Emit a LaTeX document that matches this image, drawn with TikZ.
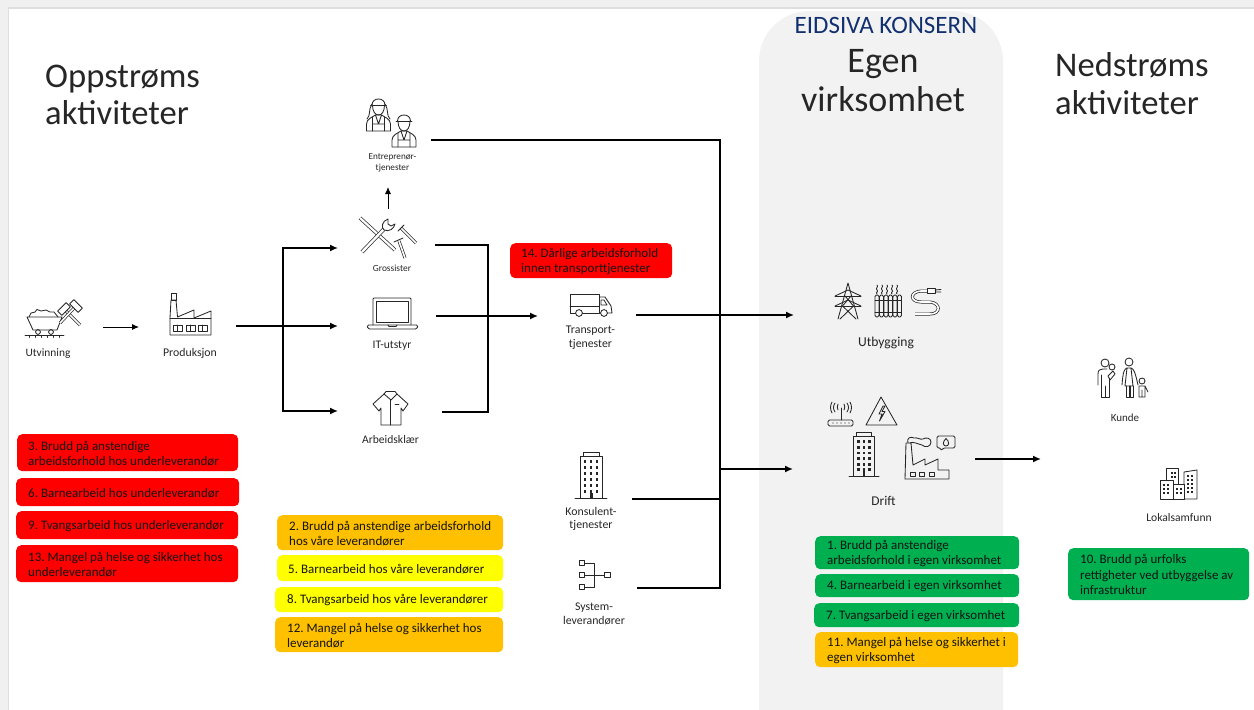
\documentclass[tikz,border=0pt]{standalone}
\usepackage{fontspec}
\setmainfont{Carlito}
\usetikzlibrary{arrows.meta}
\frenchspacing
\definecolor{riskred}{HTML}{FF0000}
\definecolor{riskorange}{HTML}{FFC000}
\definecolor{riskyellow}{HTML}{FFFF00}
\definecolor{riskgreen}{HTML}{00B050}
\definecolor{panelgray}{HTML}{F2F2F2}
\definecolor{eidsiva}{HTML}{123070}
\definecolor{inkcol}{HTML}{262626}
\tikzset{
  x=1pt,y=-1pt,
  icon/.style={draw=inkcol,line width=.85pt,line join=round,line cap=round},
  lbl/.style={font=\fontsize{11.8}{13.8}\selectfont,text=inkcol,inner sep=0pt,align=center},
  ttl/.style={font=\fontsize{34.6}{38}\selectfont,text=black!85,inner sep=0pt,align=left,anchor=base west},
  conn/.style={draw=black,line width=1.5pt},
  connarrow/.style={conn,-{Latex[length=8pt,width=7pt]}},
  thinarrow/.style={draw=black,line width=.9pt,-{Latex[length=7pt,width=6pt]}},
  shaft/.style={draw=inkcol,double=white,double distance=1.6pt,line width=.7pt},
  pics/tower/.style={code={
    \draw[icon] (-8,-46) rectangle (8,-42);
    \draw[icon] (-11,-42) rectangle (11,0);
    \draw[icon] (-16,0) -- (16,0);
    \foreach \r in {0,...,5}{\foreach \c in {-6,0,6}{
      \fill[inkcol] (\c-1.4,-38+\r*6) rectangle (\c+1.4,-35+\r*6);}}
    \fill[inkcol] (-1.5,-5) rectangle (1.5,0);
  }},
  pics/worker/.style={code={
    \draw[icon] (-6,-1) .. controls (-6,6) and (-3,9) .. (0,9) .. controls (3,9) and (6,6) .. (6,-1);
    \draw[icon] (-8,-1) -- (8,-1);
    \draw[icon] (-6.5,-1) .. controls (-6.5,-9) and (6.5,-9) .. (6.5,-1);
    \draw[icon] (-12,25) -- (-12,18) .. controls (-12,13) and (-6,11) .. (-3,9) -- (3,9) .. controls (6,11) and (12,13) .. (12,18) -- (12,25) -- cycle;
    \draw[icon] (-6,11) -- (-6,25) (6,11) -- (6,25) (-6,18) -- (6,18) (-3,9) -- (0,18) -- (3,9);
  }}
}
\newcommand{\riskbox}[8]{%
  \node[fill=#6,rounded corners=5pt,anchor=north west,minimum width=#4-#2,minimum height=#5-#3,
    inner sep=0pt] (#1) at (#2,#3) {};
  \node[anchor=west,inner sep=0pt,align=left,
    font=\fontsize{13}{15.5}\selectfont,text=black!92] (#1text) at ([xshift=#7pt,yshift=-.7pt]#1.west) {#8};}
\begin{document}
\begin{tikzpicture}
\useasboundingbox (0,0) rectangle (1254,710);
% window edge
\fill[black!6] (0,0) rectangle (1254,8);
\fill[black!6] (0,0) rectangle (9,710);
\fill[black!13] (9,7) rectangle (1254,8.5);
\fill[black!13] (8,7) rectangle (9,710);
% panel
\fill[panelgray,rounded corners=50pt] (759,11) rectangle (1003,760);
% titles
\node[ttl] (upstream) at (45,87) {Oppstrøms};
\node[ttl] (upstream2) at (45,124) {aktiviteter};
\node[ttl] (downstream) at (1055,76) {Nedstrøms};
\node[ttl] (downstream2) at (1055,114) {aktiviteter};
\node[inner sep=0pt,anchor=base,text=eidsiva,font=\fontsize{25}{27}\selectfont] (eidsivaname) at (886,33) {EIDSIVA KONSERN};
\node[ttl,anchor=base,font=\fontsize{36}{40}\selectfont] (own1) at (883,72) {Egen};
\node[ttl,anchor=base,font=\fontsize{36}{40}\selectfont] (own2) at (883,111) {virksomhet};
% labels
\node[lbl,font=\fontsize{11.4}{13}\selectfont] (utv) at (48,354) {Utvinning};
\node[lbl] (prod) at (190,353) {Produksjon};
\node[lbl,font=\fontsize{9.2}{11}\selectfont] (entr) at (392.5,163) {Entreprenør-\\tjenester};
\node[lbl,font=\fontsize{9.4}{11}\selectfont] (gros) at (392,268) {Grossister};
\node[lbl,font=\fontsize{11.6}{13}\selectfont] (itut) at (392,346) {IT-utstyr};
\node[lbl,font=\fontsize{11.6}{13}\selectfont] (arb) at (390.5,440) {Arbeidsklær};
\node[lbl] (trans) at (590.5,337.5) {Transport-\\tjenester};
\node[lbl] (kons) at (591,519) {Konsulent-\\tjenester};
\node[lbl] (syst) at (594,614) {System-\\leverandører};
\node[lbl,font=\fontsize{13.6}{15}\selectfont] (utb) at (886,343) {Utbygging};
\node[lbl,font=\fontsize{13.4}{15}\selectfont] (drift) at (883.5,501) {Drift};
\node[lbl,font=\fontsize{11}{13}\selectfont] (kunde) at (1125,418) {Kunde};
\node[lbl,font=\fontsize{11.6}{13}\selectfont] (lokal) at (1179,518) {Lokalsamfunn};
% risk boxes
\riskbox{r3}{17}{434}{238}{471}{riskred}{11}{3. Brudd på anstendige\\arbeidsforhold hos underleverandør}
\riskbox{r6}{16}{478}{239}{506}{riskred}{12}{6. Barnearbeid hos underleverandør}
\riskbox{r9}{16}{511}{238}{539}{riskred}{12}{9. Tvangsarbeid hos underleverandør}
\riskbox{r13}{16}{545}{238}{582}{riskred}{12}{13. Mangel på helse og sikkerhet hos\\underleverandør}
\riskbox{r2}{277}{515}{503}{550}{riskorange}{12}{2. Brudd på anstendige arbeidsforhold\\hos våre leverandører}
\riskbox{r5}{277}{555}{503}{581}{riskyellow}{11}{5. Barnearbeid hos våre leverandører}
\riskbox{r8}{275}{587}{503}{612}{riskyellow}{12}{8. Tvangsarbeid hos våre leverandører}
\riskbox{r12}{275}{617}{503}{652}{riskorange}{12}{12. Mangel på helse og sikkerhet hos\\leverandør}
\riskbox{r14}{510}{243}{672}{278}{riskred}{11}{14. Dårlige arbeidsforhold\\innen transporttjenester}
\riskbox{r1}{815}{536}{1019}{569}{riskgreen}{12}{1. Brudd på anstendige\\arbeidsforhold i egen virksomhet}
\riskbox{r4}{815}{574}{1019}{597}{riskgreen}{12}{4. Barnearbeid i egen virksomhet}
\riskbox{r7}{814}{603}{1019}{627}{riskgreen}{12}{7. Tvangsarbeid i egen virksomhet}
\riskbox{r11}{815}{632}{1018}{667}{riskorange}{12}{11. Mangel på helse og sikkerhet i\\egen virksomhet}
\riskbox{r10}{1068}{548}{1249}{600}{riskgreen}{12}{10. Brudd på urfolks\\rettigheter ved utbyggelse av\\infrastruktur}
% connector points
\coordinate (utvout) at (103,327); \coordinate (prodin) at (139,327);
\coordinate (prodout) at (236,326); \coordinate (split) at (283,326);
\coordinate (splitup) at (283,248); \coordinate (splitdn) at (283,411);
\coordinate (grosin) at (338,248); \coordinate (itin) at (338,326); \coordinate (arbin) at (338,411);
\coordinate (grosup) at (388,209); \coordinate (entrin) at (388,187);
\coordinate (grosout) at (435,245); \coordinate (gather1) at (488,245);
\coordinate (arbout) at (442,412); \coordinate (gather2) at (488,412);
\coordinate (itout) at (436,316); \coordinate (transin) at (538,316);
\coordinate (entrout) at (431,140); \coordinate (bus1) at (720,140);
\coordinate (sysout) at (637,588); \coordinate (bus2) at (720,588);
\coordinate (konsout) at (632,499); \coordinate (bus3) at (720,499);
\coordinate (transout) at (636,315); \coordinate (utbin) at (794,315);
\coordinate (bus4) at (720,469); \coordinate (driftin) at (793,469);
\coordinate (driftout) at (975,459); \coordinate (downin) at (1041,459);
% connectors
\draw[thinarrow] (utvout) -- (prodin);
\draw[conn] (prodout) -- (split);
\draw[connarrow] (split) -- (splitup) -- (grosin);
\draw[connarrow] (split) -- (splitdn) -- (arbin);
\draw[connarrow] (split) -- (itin);
\draw[thinarrow] (grosup) -- (entrin);
\draw[conn] (grosout) -- (gather1) -- (gather2) -- (arbout);
\draw[connarrow] (itout) -- (transin);
\draw[conn] (entrout) -- (bus1) -- (bus2) -- (sysout);
\draw[conn] (konsout) -- (bus3);
\draw[connarrow] (transout) -- (utbin);
\draw[connarrow] (bus4) -- (driftin);
\draw[connarrow] (driftout) -- (downin);
% --- mine cart + hammers
\draw[icon] (27,317) -- (62,317) -- (57,330) -- (33,330) -- cycle;
\draw[icon] (29,317) -- (31,313) -- (35,312) -- (37,309.5) -- (41,311) -- (46,310) -- (50,312) -- (54,312) -- (58,317);
\draw[icon] (38,332) circle (2.4) (51,332) circle (2.4);
\draw[icon] (25,335.5) -- (64,335.5);
\foreach \t in {29,35,41,47,53,59}{\draw[icon] (\t,335.5) -- (\t,337.5);}
\draw[shaft] (80,325) -- (65,310);
\draw[shaft] (60,323) -- (75,307);
\draw[icon,fill=white,rotate around={-45:(64,309)}] (61,303) rectangle (67,315);
\draw[icon,fill=white,rotate around={45:(76,306)}] (73,300) rectangle (79,312);
% --- factory
\draw[icon] (170,335) -- (170,318) -- (171,300) -- (176,300) -- (177.5,317) -- (194,310) -- (194,318) -- (211,311) -- (211,335) -- cycle;
\draw[icon] (170,318) -- (211,318);
\draw[icon] (171,293) rectangle (176,300);
\foreach \w in {173,186,198}{\draw[icon] (\w,325) rectangle (\w+9,331); \draw[icon] (\w+4.5,325) -- (\w+4.5,331);}
% --- workers
\path (378.5,106) pic {worker};
\draw[icon] (372,104) .. controls (368,110) and (371,115) .. (367,119) (385,104) .. controls (389,110) and (386,115) .. (390,119);
\path (404,122) pic {worker};
% --- tools
\draw[shaft,double distance=2.2pt] (360,218) -- (395,250);
\draw[shaft,double distance=2.4pt] (362,252) -- (385,228);
\draw[icon,fill=white] (388,219) .. controls (382,221) and (381,227) .. (384,230) .. controls (389,232) and (394,229) .. (395,224) -- (391,226) -- (388,224) -- cycle;
\draw[shaft] (401,228) -- (416,243);
\draw[icon] (398,231) -- (404,225);
\draw[shaft] (399,241) -- (405,258);
\draw[icon] (394,242) -- (403,238);
% --- laptop
\draw[icon,rounded corners=1pt] (373,325) -- (373,298) -- (411,298) -- (411,325);
\draw[icon] (376,301) rectangle (408,322);
\draw[icon,rounded corners=1.5pt] (367,325) -- (418,325) -- (417,329) -- (368,329) -- cycle;
\draw[icon] (388,325) -- (389,326.5) -- (396,326.5) -- (397,325);
% --- shirt
\draw[icon] (384,394) -- (373,404) -- (379,411) -- (381,408) -- (381,425) -- (401,425) -- (401,408) -- (403,411) -- (408,404) -- (397,394);
\draw[icon] (384,394) -- (386,391.5) -- (395,391.5) -- (397,394) -- (391,400) -- (384,394);
\draw[icon] (390.5,400) -- (390.5,425) (395,404) -- (399,404);
% --- truck
\draw[icon] (570,294) rectangle (599,313);
\draw[icon] (570,306) -- (599,306);
\draw[icon] (600,297) -- (605,297) -- (611,306) -- (612,313) -- (600,313);
\draw[icon] (601,300) -- (604,300) -- (607,305) -- (601,305) -- cycle;
\draw[icon,fill=white] (579,313) circle (3.4) (604,313) circle (3.4);
% --- consultant tower, system tree
\path (591,498) pic {tower};
\foreach \yy in {563,575,587}{\draw[icon] (579,\yy-2.7) rectangle (584.5,\yy+2.7);}
\draw[icon] (604.5,572.3) rectangle (610,577.7);
\draw[icon] (584.5,563) -- (594.5,563) -- (594.5,587) -- (584.5,587) (584.5,575) -- (604.5,575);
% --- pylon
\draw[icon] (848,283) -- (838,319) (848,283) -- (858,319);
\draw[icon] (835,296) -- (848,290) -- (861,296) (835,306) -- (848,300) -- (861,306);
\draw[icon] (835,296) -- (861,296) (835,306) -- (861,306);
\draw[icon] (842.5,306) -- (856,319) (853.5,306) -- (840,319) (845,296) -- (853.5,306) (851,296) -- (842.5,306);
% --- radiator
\foreach \q in {875,879.5,884,888.5,893,897.5}{
  \draw[icon,rounded corners=1.5pt] (\q,295) rectangle (\q+4,317);}
\draw[icon] (875,300) -- (901.5,300) (875,312) -- (901.5,312);
\foreach \q in {877,882,887,892,897}{
  \draw[icon] (\q,285) .. controls (\q+2,287) and (\q-2,288) .. (\q,290) .. controls (\q+2,291.5) and (\q-2,292.5) .. (\q,294);}
% --- cable
\draw[shaft] (930,291) -- (921,291) .. controls (909,292) and (910,302) .. (921,302) -- (930,302) .. controls (941,303) and (941,314) .. (930,314) -- (915,314);
\draw[icon,fill=white] (927,288.5) rectangle (935,293.5);
\draw[icon] (935,290) -- (941,289.5) (935,292) -- (941,292);
% --- router
\draw[icon,rounded corners=1.5pt] (828,420) rectangle (853,426);
\draw[icon] (841,420) -- (841,408);
\foreach \d in {833,837,841,845,849}{\fill[inkcol] (\d,423) circle (.7);}
\draw[icon] (838,404) .. controls (837,406) and (837,408) .. (838,410) (844,404) .. controls (845,406) and (845,408) .. (844,410);
\draw[icon] (835,403) .. controls (833,406) and (833,409) .. (835,412) (847,403) .. controls (849,406) and (849,409) .. (847,412);
\draw[icon] (832,402) .. controls (830,406) and (830,409) .. (832,413) (850,402) .. controls (852,406) and (852,409) .. (850,413);
% --- warning
\draw[icon] (881,397) -- (866,425) -- (897,425) -- cycle;
\draw[icon] (883,406) -- (879,414) -- (882,414) -- (879.5,421) -- (885,411.5) -- (882,411.5) -- (885,406) -- cycle;
% --- tower drift
\path (864,476) pic[scale=.94] {tower};
% --- smoking factory
\draw[icon] (905,479) -- (906,443) -- (911,443) -- (913,465) -- (925,459) -- (925,465) -- (938,459) -- (938,470) -- (949,470) -- (949,479) -- cycle;
\foreach \w in {910,919,929}{\draw[icon] (\w,472) rectangle (\w+5,476);}
\draw[icon] (908,443) .. controls (906,438) and (911,436) .. (914,438) .. controls (917,437) and (920,440) .. (923,439) .. controls (926,437) and (931,438) .. (931,442) .. controls (931,447) and (925,448) .. (922,445) .. controls (918,444) and (912,441) .. (910,443);
\draw[icon,rounded corners=1.5pt] (937,436) -- (955,436) -- (955,448) -- (943,448) -- (941,451) -- (941,448) -- (937,448) -- cycle;
\draw[icon] (946,438.5) .. controls (950,442) and (949,446) .. (946,446) .. controls (943,446) and (942,442) .. (946,438.5);
% --- family
\draw[icon] (1105,363) circle (4);
\draw[icon] (1098,385) -- (1098,374) .. controls (1098,370) and (1100,369) .. (1103,369) -- (1107,369);
\draw[icon] (1101,375) -- (1101,397) -- (1109,397) -- (1109,378) (1105,386) -- (1105,397);
\draw[icon] (1112,367) circle (3);
\draw[icon] (1108,376) -- (1113,371) -- (1115,374) -- (1110,380) -- cycle;
\draw[icon] (1129,362) circle (4);
\draw[icon] (1127,368) -- (1125,386) -- (1133,386) -- (1131,368) -- cycle;
\draw[icon] (1127,368) .. controls (1124,369) and (1123,372) .. (1122,385) (1131,368) .. controls (1134,369) and (1135,372) .. (1138,385);
\draw[icon] (1126,386) -- (1126,397) -- (1129,397) -- (1129,386) (1130,386) -- (1130,397) -- (1133,397) -- (1133,386);
\draw[icon] (1142,381) circle (3);
\draw[icon] (1139,397) -- (1139,386) -- (1145,386) -- (1148,392) (1145,386) -- (1145,397) -- (1139,397) (1142,390) -- (1142,397);
% --- city
\draw[icon,fill=white] (1166,468) rectangle (1178,485);
\draw[icon,fill=white] (1184,472) -- (1197,470) -- (1197,499) -- (1184,499) -- cycle;
\draw[icon,fill=white] (1173,484) rectangle (1184,499);
\draw[icon,fill=white] (1160,480) rectangle (1173,499);
\foreach \a in {1171,1174}{\foreach \b in {472,476}{\fill[inkcol] (\a,\b) rectangle (\a+1.8,\b+1.8);}}
\foreach \a in {1163,1167}{\foreach \b in {484,488,492}{\fill[inkcol] (\a,\b) rectangle (\a+1.8,\b+1.8);}}
\foreach \a in {1176,1180}{\foreach \b in {488,492}{\fill[inkcol] (\a,\b) rectangle (\a+1.8,\b+1.8);}}
\foreach \a in {1187,1191}{\foreach \b in {475,479,483,487,491}{\fill[inkcol] (\a,\b) rectangle (\a+1.8,\b+1.8);}}
\end{tikzpicture}
\end{document}
